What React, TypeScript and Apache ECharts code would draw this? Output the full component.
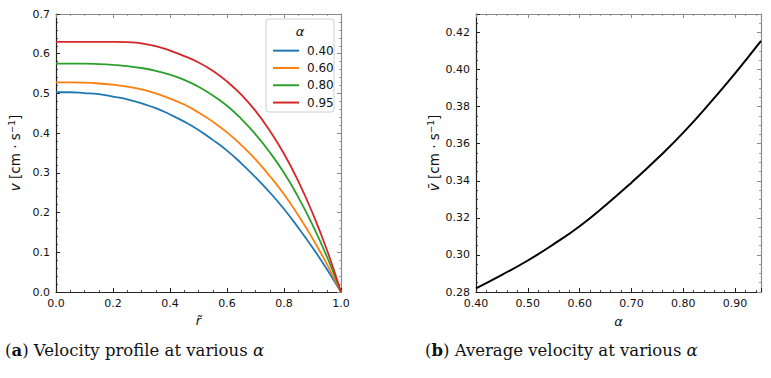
import React, { useEffect, useRef } from "react";
import * as echarts from "echarts";

// ---- data ----
const rValues = [0, 0.05, 0.1, 0.15, 0.2, 0.25, 0.3, 0.35, 0.4, 0.45, 0.5, 0.55, 0.6, 0.65, 0.7, 0.75, 0.8, 0.85, 0.9, 0.95, 1.0];
const v040 = [0.503, 0.503, 0.501, 0.498, 0.492, 0.485, 0.475, 0.463, 0.447, 0.429, 0.408, 0.383, 0.356, 0.324, 0.289, 0.251, 0.209, 0.162, 0.112, 0.058, 0.0];
const v060 = [0.528, 0.528, 0.527, 0.525, 0.522, 0.517, 0.510, 0.500, 0.487, 0.472, 0.452, 0.429, 0.402, 0.370, 0.334, 0.292, 0.246, 0.193, 0.135, 0.071, 0.0];
const v080 = [0.575, 0.575, 0.575, 0.574, 0.572, 0.569, 0.564, 0.557, 0.547, 0.534, 0.517, 0.495, 0.469, 0.436, 0.397, 0.352, 0.300, 0.239, 0.169, 0.090, 0.0];
const v095 = [0.630, 0.630, 0.630, 0.630, 0.630, 0.629, 0.626, 0.619, 0.608, 0.594, 0.578, 0.557, 0.530, 0.497, 0.456, 0.406, 0.348, 0.279, 0.199, 0.107, 0.0];
const alphaValues = [0.40, 0.45, 0.50, 0.55, 0.60, 0.65, 0.70, 0.75, 0.80, 0.85, 0.90, 0.95];
const vMean = [0.282, 0.2893, 0.297, 0.3058, 0.3155, 0.3268, 0.339, 0.352, 0.366, 0.3815, 0.398, 0.4155];
const profileNames = ["0.40", "0.60", "0.80", "0.95"];
const profileColors = ["#1f77b4", "#ff7f0e", "#2ca02c", "#d62728"];

const DARK = "#222";
const GREY = "#8a8a8a";
const SANS = "DejaVu Sans";
const SERIF = "DejaVu Serif";

function pairs(xs: number[], ys: number[]) {
  return xs.map((x, i) => [x, ys[i]]);
}

function makeAxis(opts: any) {
  const { color, show, grid, position, min, max, interval, minor, digits, name, nameGap, nameStyle } = opts;
  return {
    type: "value",
    gridIndex: grid,
    position,
    min,
    max,
    interval,
    name: name || "",
    nameLocation: "middle",
    nameGap: nameGap || 0,
    nameMoveOverlap: false,
    nameTextStyle: nameStyle,
    axisLine: { show: true, onZero: false, lineStyle: { color, width: 1.2 } },
    axisTick: { show: true, inside: true, length: 4, lineStyle: { color, width: 1 } },
    minorTick: { show: true, splitNumber: minor, length: 2, lineStyle: { color, width: 0.8 } },
    splitLine: { show: false },
    minorSplitLine: { show: false },
    axisLabel: {
      show,
      showMaxLabel: opts.showMax !== false,
      color: "#111",
      fontFamily: SANS,
      fontSize: 11,
      margin: 6,
      formatter: (v: number) => v.toFixed(digits),
    },
  };
}

export default function App() {
  const ref = useRef<HTMLDivElement>(null);
  useEffect(() => {
    if (!ref.current) return;
    const chart = echarts.init(ref.current, null, { renderer: "svg" });
    const nameRich = {
      i: { fontStyle: "italic", fontFamily: SANS, fontSize: 13.5, color: "#111" },
      sup: { fontSize: 9, fontFamily: SANS, color: "#111", verticalAlign: "top", lineHeight: 9 },
    };
    const yNameStyle = { fontFamily: SANS, fontSize: 13.5, color: "#111", lineHeight: 16, rich: nameRich };
    const xNameStyle = { fontFamily: SANS, fontSize: 13, color: "#111", fontStyle: "italic" };
    const capRich = {
      b: { fontWeight: "bold", fontFamily: SERIF, fontSize: 16.5, fill: "#111" },
      i: { fontStyle: "italic", fontFamily: SERIF, fontSize: 16.5, fill: "#111" },
    };

    const option: any = {
      animation: false,
      grid: [
        { left: 56, top: 14, width: 285, height: 278 },
        { left: 476, top: 14, width: 285, height: 278 },
      ],
      xAxis: [
        makeAxis({ color: DARK, show: true, grid: 0, position: "bottom", min: 0, max: 1, interval: 0.2, minor: 4, digits: 1, name: "r\u0303", nameGap: 22, nameStyle: xNameStyle }),
        makeAxis({ color: GREY, show: false, grid: 0, position: "top", min: 0, max: 1, interval: 0.2, minor: 4, digits: 1 }),
        makeAxis({ color: DARK, show: true, grid: 1, position: "bottom", min: 0.4, max: 0.95, interval: 0.1, minor: 5, digits: 2, showMax: false, name: "\u03b1", nameGap: 23, nameStyle: xNameStyle }),
        makeAxis({ color: GREY, show: false, grid: 1, position: "top", min: 0.4, max: 0.95, interval: 0.1, minor: 5, digits: 2 }),
      ],
      yAxis: [
        makeAxis({ color: DARK, show: true, grid: 0, position: "left", min: 0, max: 0.7, interval: 0.1, minor: 5, digits: 1, name: "{i|v} [cm \u00b7 s{sup|\u22121}]", nameGap: 33, nameStyle: yNameStyle }),
        makeAxis({ color: GREY, show: false, grid: 0, position: "right", min: 0, max: 0.7, interval: 0.1, minor: 5, digits: 1 }),
        makeAxis({ color: DARK, show: true, grid: 1, position: "left", min: 0.28, max: 0.43, interval: 0.02, minor: 4, digits: 2, showMax: false, name: "{i|v\u0304} [cm \u00b7 s{sup|\u22121}]", nameGap: 34, nameStyle: yNameStyle }),
        makeAxis({ color: GREY, show: false, grid: 1, position: "right", min: 0.28, max: 0.43, interval: 0.02, minor: 4, digits: 2 }),
      ],
      legend: {
        data: profileNames,
        orient: "vertical",
        left: 268,
        top: 37,
        itemWidth: 26,
        itemHeight: 2,
        itemGap: 0,
        icon: "rect",
        z: 6,
        textStyle: { fontFamily: SANS, fontSize: 12, color: "#111", lineHeight: 17.3, padding: [0, 0, 0, 3] },
      },
      graphic: [
        { type: "rect", shape: { x: 266, y: 19, width: 68, height: 93, r: 3 }, style: { fill: "#fff", stroke: "#d0d0d0", lineWidth: 1 }, z: 1 },
        { type: "text", x: 300, y: 31, style: { text: "\u03b1", fontFamily: SANS, fontStyle: "italic", fontSize: 13, fill: "#111", align: "center", verticalAlign: "middle" }, z: 6 },
        {
          type: "text", x: 5, y: 350,
          style: { text: "({b|a}) Velocity profile at various {i|\u03b1}", fontFamily: SERIF, fontSize: 16.5, fill: "#111", verticalAlign: "middle", rich: capRich },
        },
        {
          type: "text", x: 425, y: 350,
          style: { text: "({b|b}) Average velocity at various {i|\u03b1}", fontFamily: SERIF, fontSize: 16.5, fill: "#111", verticalAlign: "middle", rich: capRich },
        },
      ],
      series: [
        ...profileNames.map((n, k) => ({
          name: n,
          type: "line",
          xAxisIndex: 0,
          yAxisIndex: 0,
          data: pairs(rValues, [v040, v060, v080, v095][k]),
          smooth: 0.5,
          showSymbol: false,
          symbol: "none",
          lineStyle: { color: profileColors[k], width: 1.8 },
          itemStyle: { color: profileColors[k] },
          z: 3,
        })),
        {
          name: "mean",
          type: "line",
          xAxisIndex: 2,
          yAxisIndex: 2,
          data: pairs(alphaValues, vMean),
          smooth: 0.5,
          symbol: "none",
          lineStyle: { color: "#000", width: 2 },
          itemStyle: { color: "#000" },
        },
      ],
    };
    chart.setOption(option);
    return () => chart.dispose();
  }, []);
  return <div ref={ref} style={{ position: "fixed", left: 0, top: 0, width: 771, height: 378, background: "#fff" }} />;
}
